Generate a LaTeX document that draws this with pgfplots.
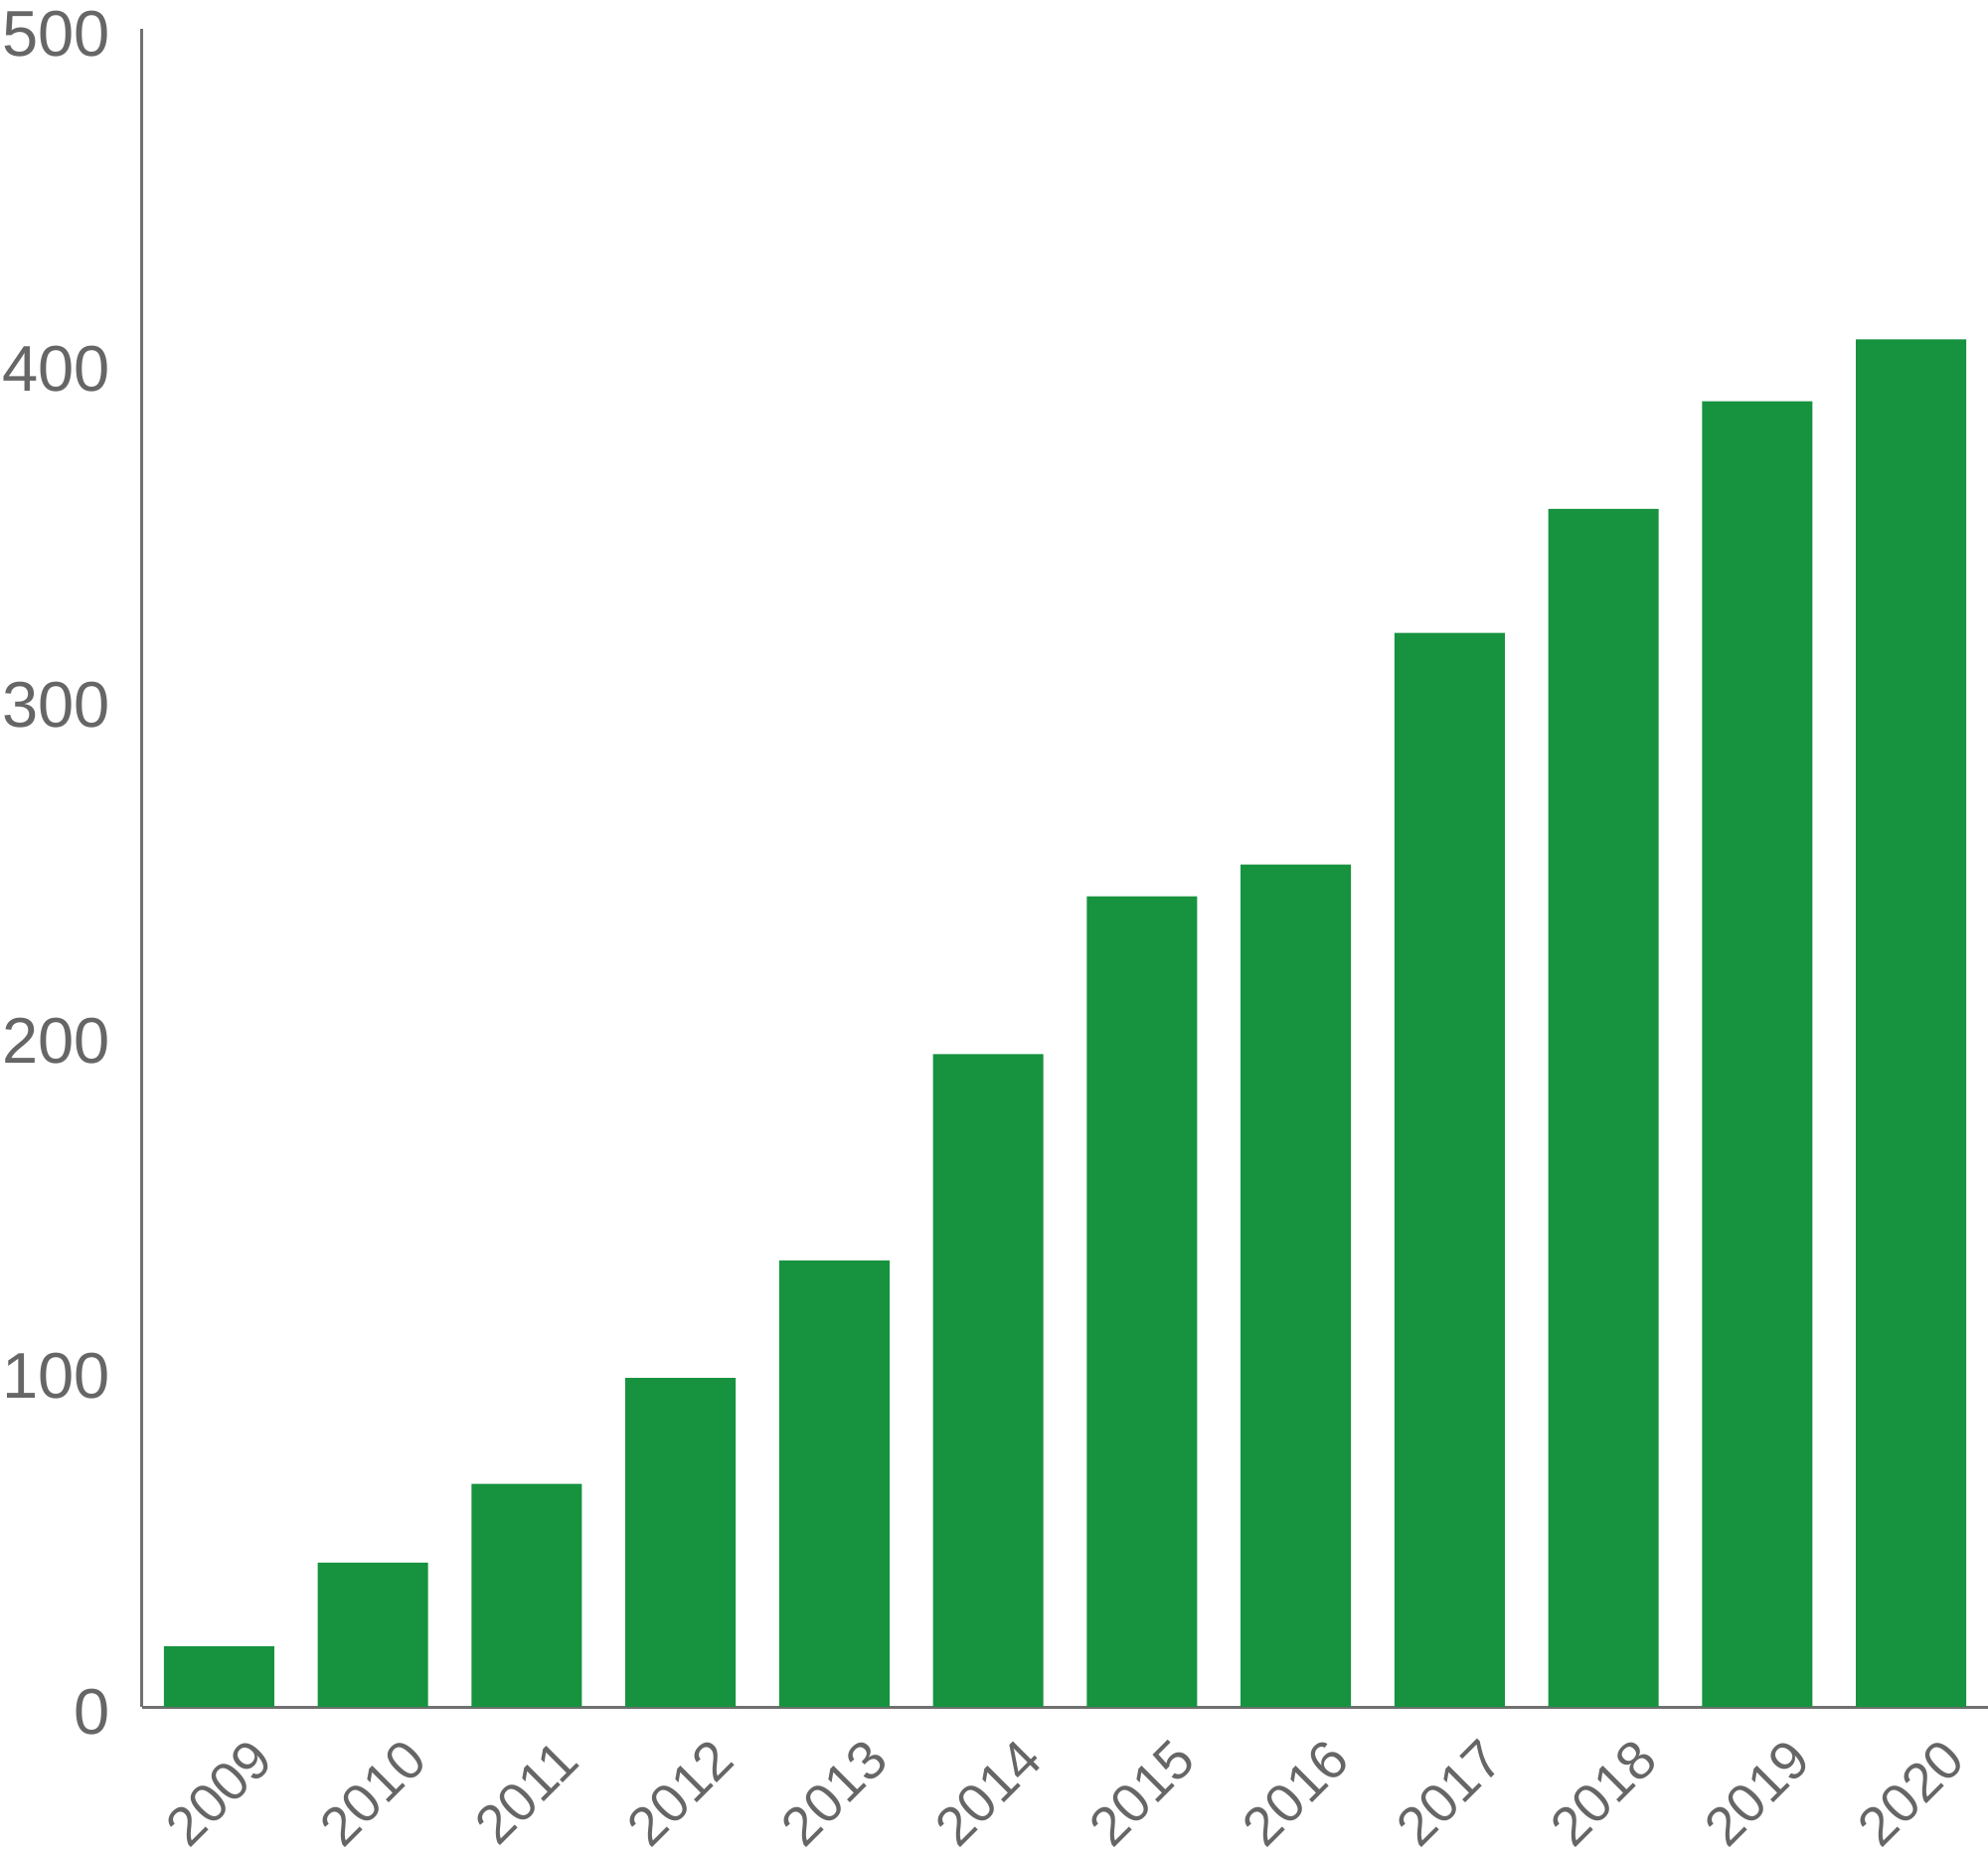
\documentclass[border=0pt]{standalone}
\usepackage{pgfplots}
\pgfplotsset{compat=1.18}
\usepackage{fontspec}
\setmainfont{Liberation Sans}
\definecolor{barg}{HTML}{17923F}
\definecolor{txtg}{HTML}{666666}
\definecolor{axg}{HTML}{707070}
\begin{document}
\begin{tikzpicture}
\path[use as bounding box] (-28.6bp,-30.2bp) rectangle (371.4bp,343.4bp);
\begin{axis}[
  at={(0,0)}, anchor=south west,
  scale only axis, width=371.4bp, height=337.6bp,
  xmin=-0.5, xmax=11.5, ymin=0, ymax=500,
  axis x line*=bottom, axis y line*=left,
  axis line style={draw=axg, line width=0.6bp},
  major tick length=0pt,
  ytick={0,100,200,300,400,500},
  xtick={0,...,11},
  xticklabels={2009,2010,2011,2012,2013,2014,2015,2016,2017,2018,2019,2020},
  /pgf/number format/assume math mode=true,
  yticklabel style={font=\fontsize{13bp}{15bp}\selectfont, text=txtg, inner sep=0pt, anchor=east, xshift=-6.2bp, yshift=-1bp},
  xticklabel style={font=\fontsize{11bp}{13bp}\selectfont, text=txtg, inner sep=0pt, anchor=center, yshift=-17.3bp, rotate=45},
  ybar, bar width=22.2bp,
]
\addplot[fill=barg, draw=none] coordinates {
(0,18) (1,43) (2,66.5) (3,98) (4,133) (5,194.5) (6,241.5) (7,251) (8,320) (9,357) (10,389) (11,407.5)
};
\end{axis}
\end{tikzpicture}
\end{document}
